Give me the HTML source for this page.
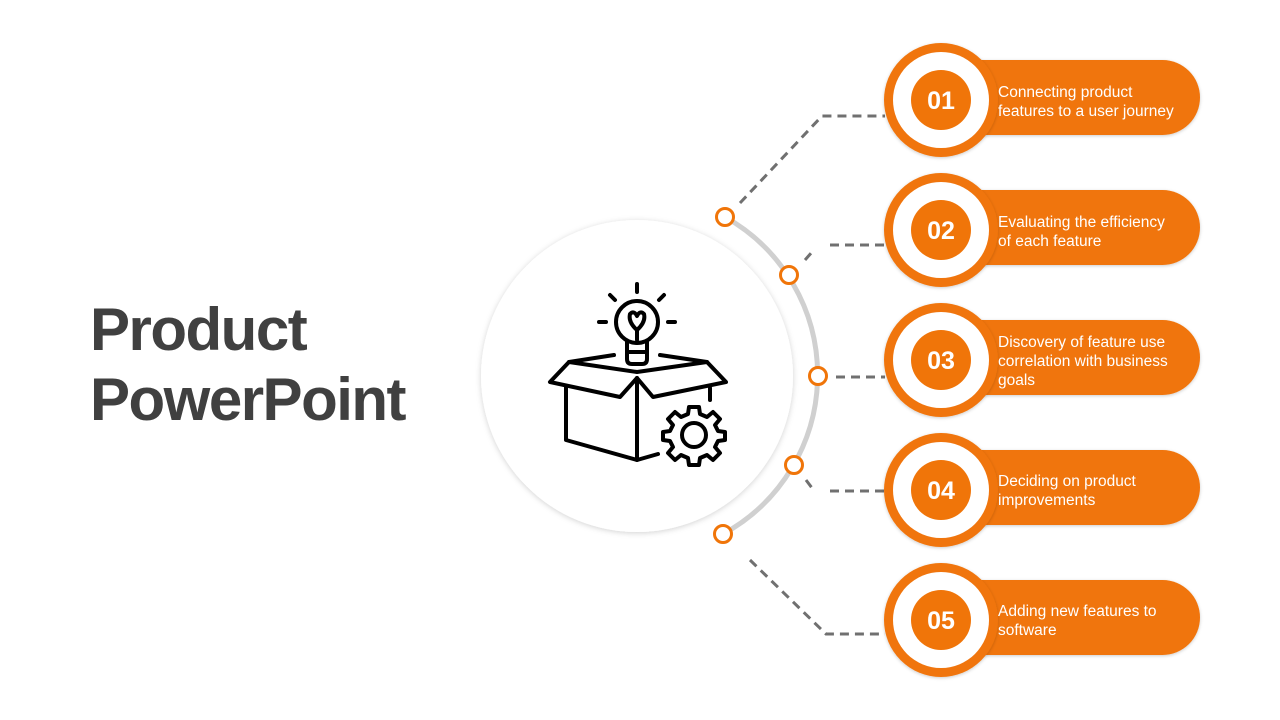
<!DOCTYPE html>
<html><head><meta charset="utf-8"><style>
html,body{margin:0;padding:0;background:#fff;}
body{width:1280px;height:720px;overflow:hidden;position:relative;font-family:"Liberation Sans",sans-serif;}
.t{position:absolute;left:90px;font-weight:bold;color:#404040;font-size:60px;letter-spacing:-1.5px;line-height:1;}
</style></head><body>
<div class="t" style="top:300px">Product</div>
<div class="t" style="top:370px">PowerPoint</div>
<svg width="1280" height="720" style="position:absolute;left:0;top:0" xmlns="http://www.w3.org/2000/svg">
<defs>
<filter id="sh" x="-20%" y="-20%" width="140%" height="140%"><feDropShadow dx="0" dy="1" stdDeviation="3" flood-color="#000" flood-opacity="0.18"/></filter>
<filter id="sh2" x="-20%" y="-20%" width="140%" height="140%"><feDropShadow dx="0" dy="1" stdDeviation="1.5" flood-color="#000" flood-opacity="0.2"/></filter>
</defs>
<circle cx="637" cy="376" r="156" fill="#fff" filter="url(#sh)"/>
<path d="M725,217 A181,181 0 0 1 723,534" fill="none" stroke="#d0d0d0" stroke-width="5"/>
<g fill="none" stroke="#707070" stroke-width="3" stroke-dasharray="9,6">
<polyline points="740,203 822,116 885,116"/>
<polyline points="805,260 812,252"/>
<line x1="830" y1="245" x2="885" y2="245"/>
<line x1="836" y1="377" x2="885" y2="377"/>
<polyline points="806,480 812,488"/>
<line x1="830" y1="491" x2="885" y2="491"/>
<polyline points="750,560 826,634 885,634"/>
</g>
<g fill="#fff" stroke="#f07509" stroke-width="3">
<circle cx="725" cy="217" r="8.5"/><circle cx="789" cy="275" r="8.5"/><circle cx="818" cy="376" r="8.5"/><circle cx="794" cy="465" r="8.5"/><circle cx="723" cy="534" r="8.5"/>
</g>
<g fill="none" stroke="#000" stroke-width="4" stroke-linejoin="round" stroke-linecap="round">
<circle cx="637" cy="322" r="21"/>
<path d="M627,341 L627,359 Q627,364 632,364 L642,364 Q647,364 647,359 L647,341"/>
<line x1="628" y1="352" x2="646" y2="352"/>
<path d="M637,340 L637,330 Q628,322 630,314 Q634,310 637,316 Q640,310 644,314 Q646,322 637,330"/>
<line x1="637" y1="284" x2="637" y2="292"/>
<line x1="610" y1="295" x2="615" y2="300"/><line x1="664" y1="295" x2="659" y2="300"/>
<line x1="599" y1="322" x2="606" y2="322"/><line x1="668" y1="322" x2="675" y2="322"/>
<path d="M614,355 L569,362 L550,382 L620,397 L637,378 L653,397 L726,382 L707,362 L660,355"/>
<path d="M569,362 L637,372 L707,362"/>
<path d="M566,387 L566,440 L637,460 L658,454"/>
<line x1="637" y1="378" x2="637" y2="460"/>
<line x1="710" y1="388" x2="710" y2="400"/>
<circle cx="694" cy="435" r="12"/>
<path d="M689,407 L699,407 L700,414 L707,417 L713,412 L720,419 L715,425 L718,431 L725,432 L725,440 L718,441 L715,447 L720,453 L713,460 L707,455 L700,458 L699,465 L689,465 L688,458 L681,455 L675,460 L668,453 L673,447 L670,441 L663,440 L663,432 L670,431 L673,425 L668,419 L675,412 L681,417 L688,414 Z"/>
</g>
<g font-family="Liberation Sans, sans-serif">
<g transform="translate(0,0)">
<rect x="930" y="60" width="270" height="75" rx="37.5" fill="#f07509" filter="url(#sh2)"/>
<circle cx="941" cy="100" r="57" fill="#f07509" filter="url(#sh2)"/>
<circle cx="941" cy="100" r="48" fill="#fff"/>
<circle cx="941" cy="100" r="30" fill="#f07509"/>
<text x="941" y="109" text-anchor="middle" fill="#fff" font-weight="bold" font-size="25">01</text>
<text fill="#fff" font-size="15.5"><tspan x="998" y="97">Connecting product</tspan><tspan x="998" y="116">features to a user journey</tspan></text>
</g>
<g transform="translate(0,130)">
<rect x="930" y="60" width="270" height="75" rx="37.5" fill="#f07509" filter="url(#sh2)"/>
<circle cx="941" cy="100" r="57" fill="#f07509" filter="url(#sh2)"/>
<circle cx="941" cy="100" r="48" fill="#fff"/>
<circle cx="941" cy="100" r="30" fill="#f07509"/>
<text x="941" y="109" text-anchor="middle" fill="#fff" font-weight="bold" font-size="25">02</text>
<text fill="#fff" font-size="15.5"><tspan x="998" y="97">Evaluating the efficiency</tspan><tspan x="998" y="116">of each feature</tspan></text>
</g>
<g transform="translate(0,260)">
<rect x="930" y="60" width="270" height="75" rx="37.5" fill="#f07509" filter="url(#sh2)"/>
<circle cx="941" cy="100" r="57" fill="#f07509" filter="url(#sh2)"/>
<circle cx="941" cy="100" r="48" fill="#fff"/>
<circle cx="941" cy="100" r="30" fill="#f07509"/>
<text x="941" y="109" text-anchor="middle" fill="#fff" font-weight="bold" font-size="25">03</text>
<text fill="#fff" font-size="15.5"><tspan x="998" y="87">Discovery of feature use</tspan><tspan x="998" y="106">correlation with business</tspan><tspan x="998" y="125">goals</tspan></text>
</g>
<g transform="translate(0,390)">
<rect x="930" y="60" width="270" height="75" rx="37.5" fill="#f07509" filter="url(#sh2)"/>
<circle cx="941" cy="100" r="57" fill="#f07509" filter="url(#sh2)"/>
<circle cx="941" cy="100" r="48" fill="#fff"/>
<circle cx="941" cy="100" r="30" fill="#f07509"/>
<text x="941" y="109" text-anchor="middle" fill="#fff" font-weight="bold" font-size="25">04</text>
<text fill="#fff" font-size="15.5"><tspan x="998" y="96">Deciding on product</tspan><tspan x="998" y="115">improvements</tspan></text>
</g>
<g transform="translate(0,520)">
<rect x="930" y="60" width="270" height="75" rx="37.5" fill="#f07509" filter="url(#sh2)"/>
<circle cx="941" cy="100" r="57" fill="#f07509" filter="url(#sh2)"/>
<circle cx="941" cy="100" r="48" fill="#fff"/>
<circle cx="941" cy="100" r="30" fill="#f07509"/>
<text x="941" y="109" text-anchor="middle" fill="#fff" font-weight="bold" font-size="25">05</text>
<text fill="#fff" font-size="15.5"><tspan x="998" y="96">Adding new features to</tspan><tspan x="998" y="115">software</tspan></text>
</g>
</g>
</svg>
</body></html>
